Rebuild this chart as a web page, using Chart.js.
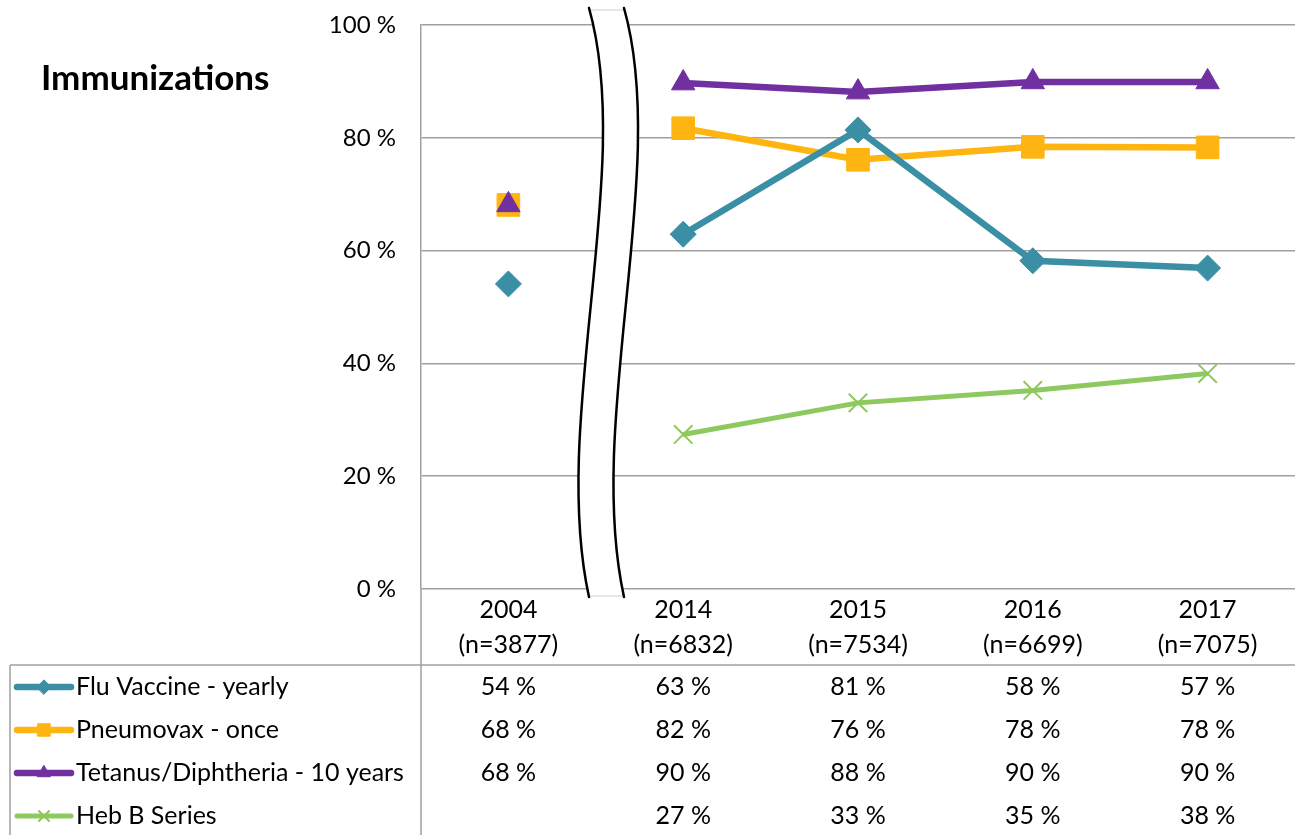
<!DOCTYPE html>
<html>
<head>
<meta charset="utf-8">
<script src="https://cdn.jsdelivr.net/npm/chart.js@4.4.0/dist/chart.umd.min.js"></script>
<style>
  html, body { margin: 0; background: #fff; overflow: hidden; }
  #wrap { position: relative; width: 1295px; height: 835px; }
</style>
</head>
<body>
<div id="wrap"><canvas id="mychart"></canvas></div>
<script>
const years = ['2004', '2014', '2015', '2016', '2017']
const sampleSizes = ['(n=3877)', '(n=6832)', '(n=7534)', '(n=6699)', '(n=7075)']
const fluVaccine = [54.1, 62.9, 81.4, 58.2, 56.9]
const pneumovax = [68.1, 81.7, 76.1, 78.4, 78.3]
const tetanus = [68.1, 89.7, 88.1, 89.9, 89.9]
const hebB = [null, 27.4, 33.0, 35.2, 38.2]
const yTicks = [0, 20, 40, 60, 80, 100]

const FONT = 'Lato, "Open Sans", sans-serif'
const GRID = '#a0a0a0'

const series = [
    { label: 'Flu Vaccine - yearly', data: fluVaccine, color: '#3a8fa5', style: 'rectRot', radius: 13, width: 6.5, order: 2 },
    { label: 'Pneumovax - once', data: pneumovax, color: '#ffb511', style: 'rect', radius: 16, width: 6.5, order: 4 },
    { label: 'Tetanus/Diphtheria - 10 years', data: tetanus, color: '#7030a0', style: 'triangle', radius: 13.5, width: 6.5, order: 3 },
    { label: 'Heb B Series', data: hebB, color: '#8dc95e', style: 'crossRot', radius: 13, width: 5, order: 1 }
]

// the 2004 point sits before the axis break, so no line into 2014
function segColor(color) {
    return ctx => ctx.p0DataIndex === 0 ? 'rgba(0,0,0,0)' : color
}

const tablePlugin = {
    id: 'tablePlugin',
    afterDatasetsDraw(chart) {
        const ctx = chart.ctx
        const xs = chart.scales.x
        const area = chart.chartArea

        // axis break band
        ctx.save()
        const top = 8, bottom = 597, gap = 35
        const curve = (dx) => {
            ctx.moveTo(589 + dx, top)
            ctx.bezierCurveTo(635 + dx, 170, 550 + dx, 420, 589 + dx, bottom)
        }
        ctx.beginPath()
        ctx.moveTo(589, top)
        ctx.bezierCurveTo(635, 170, 550, 420, 589, bottom)
        ctx.lineTo(589 + gap, bottom)
        ctx.bezierCurveTo(550 + gap, 420, 635 + gap, 170, 589 + gap, top)
        ctx.closePath()
        ctx.fillStyle = '#fff'
        ctx.fill()
        ctx.strokeStyle = '#d0d0d0'
        ctx.lineWidth = 1
        ctx.beginPath()
        ctx.moveTo(589, top + 2); ctx.lineTo(589 + gap, top + 2)
        ctx.moveTo(589, bottom - 1); ctx.lineTo(589 + gap, bottom - 1)
        ctx.stroke()
        ctx.strokeStyle = '#000'
        ctx.lineWidth = 2.5
        ctx.lineCap = 'round'
        ctx.beginPath(); curve(0); ctx.stroke()
        ctx.beginPath(); curve(gap); ctx.stroke()
        ctx.restore()

        // title
        ctx.save()
        ctx.fillStyle = '#000'
        ctx.font = 'bold 35px ' + FONT
        ctx.textBaseline = 'middle'
        ctx.textAlign = 'left'
        ctx.fillText('Immunizations', 41, 79)
        ctx.restore()

        // table lines
        ctx.save()
        ctx.strokeStyle = GRID
        ctx.lineWidth = 1.5
        ctx.beginPath()
        ctx.moveTo(10, 665); ctx.lineTo(chart.width, 665)
        ctx.moveTo(10, 665); ctx.lineTo(10, chart.height)
        ctx.moveTo(area.left, area.bottom); ctx.lineTo(area.left, chart.height)
        ctx.stroke()
        ctx.restore()

        // header + values
        ctx.save()
        ctx.fillStyle = '#000'
        ctx.font = '25px ' + FONT
        ctx.textAlign = 'center'
        ctx.textBaseline = 'middle'
        years.forEach((y, i) => {
            const x = xs.getPixelForValue(i)
            ctx.fillText(y, x, 610)
            ctx.fillText(sampleSizes[i], x, 645)
        })
        const rowY = [687, 730, 773, 816]
        series.forEach((s, r) => {
            s.data.forEach((v, i) => {
                if (v === null) return
                ctx.fillText(Math.round(v) + ' %', xs.getPixelForValue(i), rowY[r])
            })
            // legend key
            ctx.strokeStyle = s.color
            ctx.fillStyle = s.color
            ctx.lineWidth = s.width
            ctx.lineCap = 'round'
            ctx.beginPath()
            ctx.moveTo(17, rowY[r]); ctx.lineTo(71, rowY[r])
            ctx.stroke()
            ctx.lineWidth = s.style === 'crossRot' ? 2 : 1
            Chart.helpers.drawPoint(ctx, { pointStyle: s.style, rotation: 0, radius: s.radius * 0.55, borderWidth: ctx.lineWidth }, 44, rowY[r])
            ctx.fillStyle = '#000'
            ctx.textAlign = 'left'
            ctx.fillText(s.label, 76, rowY[r])
            ctx.textAlign = 'center'
        })
        ctx.restore()
    }
}

new Chart(document.getElementById('mychart'), {
    type: 'line',
    data: {
        labels: years,
        datasets: series.map(s => ({
            label: s.label,
            data: s.data,
            order: s.order,
            borderColor: s.color,
            backgroundColor: s.color,
            borderWidth: s.width,
            pointStyle: s.style,
            pointRadius: s.radius,
            pointHoverRadius: s.radius,
            pointBorderColor: s.color,
            pointBackgroundColor: s.color,
            pointBorderWidth: s.style === 'crossRot' ? 2 : 1,
            spanGaps: false,
            tension: 0,
            segment: { borderColor: segColor(s.color) }
        }))
    },
    options: {
        responsive: true,
        maintainAspectRatio: false,
        animation: false,
        layout: { autoPadding: false, padding: { top: 25, bottom: 246, left: 0, right: 0 } },
        plugins: {
            legend: { display: false },
            tooltip: { enabled: false }
        },
        scales: {
            x: {
                display: false,
                offset: true,
                ticks: { display: false }
            },
            y: {
                min: 0,
                max: 100,
                afterBuildTicks: axis => { axis.ticks = yTicks.map(v => ({ value: v })) },
                afterFit: scale => {
                    scale.width = 421
                    scale.paddingTop = 0
                    scale.paddingBottom = 0
                },
                grid: { color: GRID, lineWidth: 1.5, drawTicks: false },
                border: { display: true, color: GRID, width: 1.5 },
                ticks: {
                    padding: 25,
                    color: '#000',
                    font: { family: FONT, size: 24 },
                    callback: v => v + ' %'
                }
            }
        }
    },
    plugins: [tablePlugin]
})
</script>
</body>
</html>
